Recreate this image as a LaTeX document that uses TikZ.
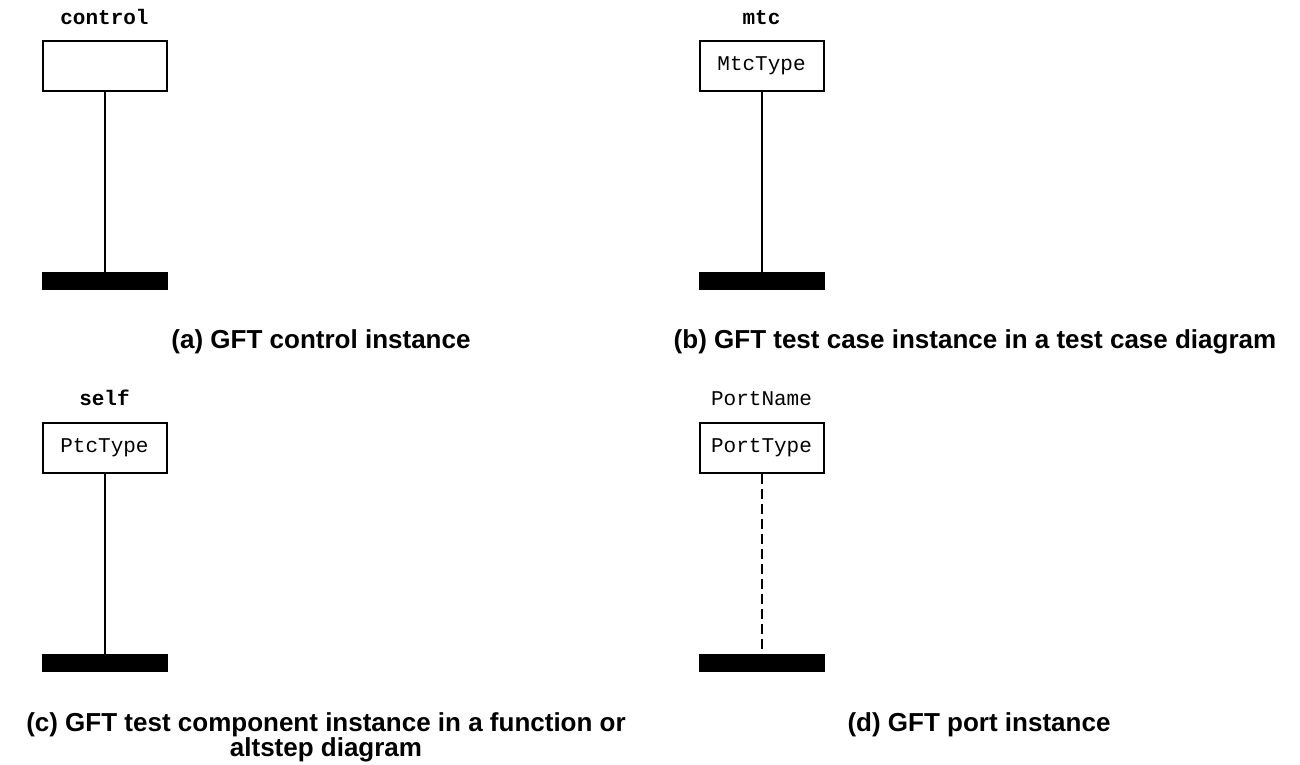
\documentclass[tikz,border=0pt]{standalone}
\usepackage{fontspec}
\setmainfont{Liberation Sans}
\newfontfamily\monofont{Liberation Mono}
\tikzset{
  instbox/.style={draw, line width=2pt, minimum width=124pt, minimum height=50pt, inner sep=0pt,
    font=\monofont\fontsize{21}{24}\selectfont},
  instname/.style={anchor=base, inner sep=0pt, font=\monofont\fontsize{21}{24}\selectfont},
  boldname/.style={instname, font=\monofont\bfseries\fontsize{21}{24}\selectfont},
  endbar/.style={fill=black, draw=none, minimum width=126pt, minimum height=18pt, inner sep=0pt},
  lifeline/.style={line width=2pt},
  portline/.style={line width=2pt, dash pattern=on 10pt off 5pt},
  captxt/.style={anchor=base, inner sep=0pt, font=\bfseries\fontsize{26}{30}\selectfont}
}
\begin{document}
\begin{tikzpicture}[x=1pt,y=-1pt]
\useasboundingbox (0,0) rectangle (1300,764);
% (a)
\node[boldname] (nA) at (104.5,24) {control};
\node[instbox] (bA) at (104.5,65.5) {};
\node[endbar] (eA) at (104.5,281) {};
\draw[lifeline] (bA.south) -- (eA.north);
% (b)
\node[boldname] (nB) at (761.5,24) {mtc};
\node[instbox] (bB) at (761.5,65.5) {MtcType};
\node[endbar] (eB) at (761.5,281) {};
\draw[lifeline] (bB.south) -- (eB.north);
% (c)
\node[boldname] (nC) at (104.5,405) {self};
\node[instbox] (bC) at (104.5,447.5) {PtcType};
\node[endbar] (eC) at (104.5,663) {};
\draw[lifeline] (bC.south) -- (eC.north);
% (d)
\node[instname] (nD) at (761.5,405) {PortName};
\node[instbox] (bD) at (761.5,447.5) {PortType};
\node[endbar] (eD) at (761.5,663) {};
\draw[portline] (bD.south) -- (eD.north);
% captions
\node[captxt] (capA) at (321,348) {(a) GFT control instance};
\node[captxt] (capB) at (975,348) {(b) GFT test case instance in a test case diagram};
\node[captxt] (capC1) at (326,731) {(c) GFT test component instance in a function or};
\node[captxt] (capC2) at (326,756) {altstep diagram};
\node[captxt] (capD) at (979,731) {(d) GFT port instance};
\end{tikzpicture}
\end{document}
